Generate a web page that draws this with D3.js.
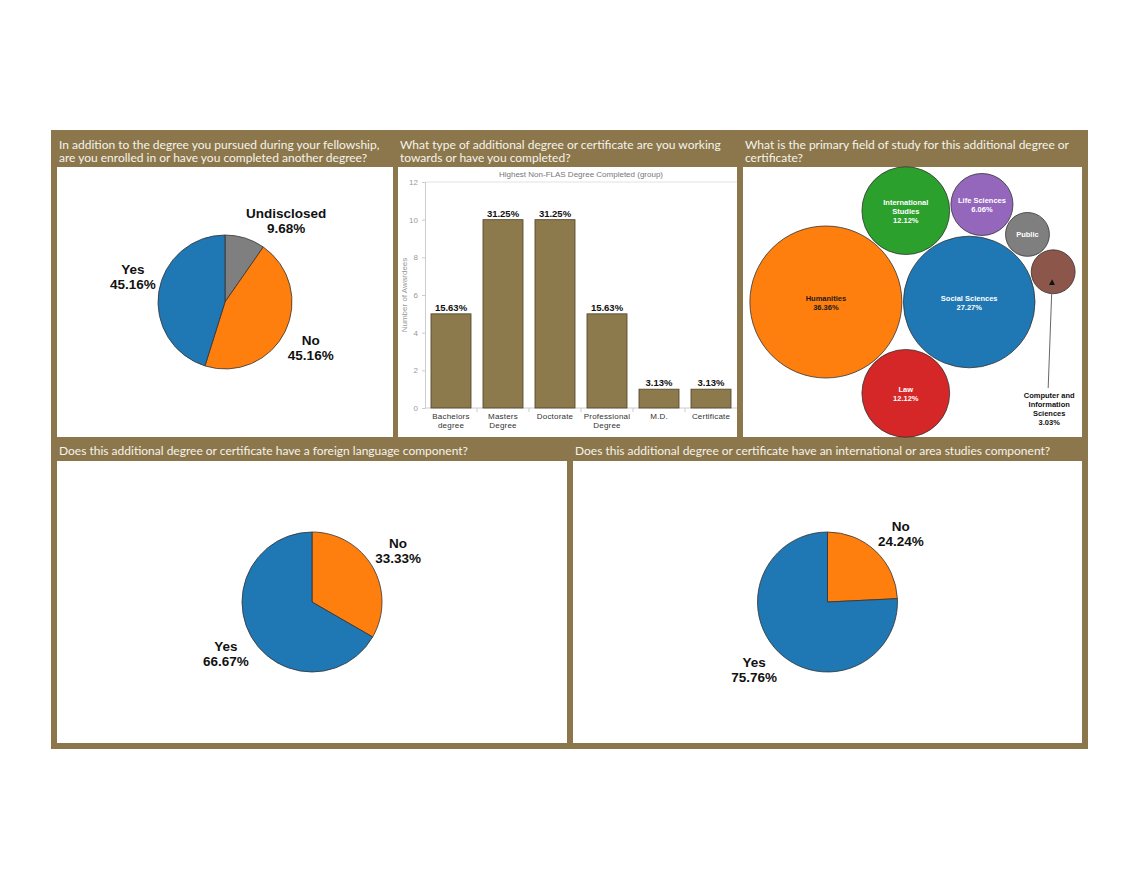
<!DOCTYPE html>
<html>
<head>
<meta charset="utf-8">
<script src="https://d3js.org/d3.v7.min.js"></script>
<style>
    body { margin: 0; background: #fff; }
    svg { display: block; }
</style>
</head>
<body>
<script>
// ---- data ----
var enrolledLabels = ['Undisclosed', 'No', 'Yes'];
var enrolledValues = [9.68, 45.16, 45.16];

var degreeTypes = ['Bachelors degree', 'Masters Degree', 'Doctorate', 'Professional Degree', 'M.D.', 'Certificate'];
var degreeTickLines = [['Bachelors', 'degree'], ['Masters', 'Degree'], ['Doctorate'], ['Professional', 'Degree'], ['M.D.'], ['Certificate']];
var degreeCounts = [5, 10, 10, 5, 1, 1];
var degreeTicks = [0, 2, 4, 6, 8, 10, 12];

var fieldNames = ['Humanities', 'Social Sciences', 'International Studies', 'Law', 'Life Sciences', 'Public', 'Computer and Information Sciences'];
var fieldLabelLines = [['Humanities'], ['Social Sciences'], ['International', 'Studies'], ['Law'], ['Life Sciences'], ['Public'], ['Computer and', 'Information', 'Sciences']];
var fieldPercents = [36.36, 27.27, 12.12, 12.12, 6.06, 3.03, 3.03];

var languageLabels = ['No', 'Yes'];
var languageValues = [33.33, 66.67];

var areaLabels = ['No', 'Yes'];
var areaValues = [24.24, 75.76];

var titles = {
    enrolled: ['In addition to the degree you pursued during your fellowship,', 'are you enrolled in or have you completed another degree?'],
    degreeType: ['What type of additional degree or certificate are you working', 'towards or have you completed?'],
    field: ['What is the primary field of study for this additional degree or', 'certificate?'],
    language: ['Does this additional degree or certificate have a foreign language component?'],
    area: ['Does this additional degree or certificate have an international or area studies component?']
};

// ---- layout / style ----
var FRAME_COLOR = '#8b774b',
    BAR_COLOR = '#8c7a4c',
    TITLE_COLOR = '#f6f3ec',
    PIE_FONT = '"Liberation Sans", Arial, sans-serif';

var COLORS = {
    'Yes': '#1f77b4', 'No': '#ff7f0e', 'Undisclosed': '#7f7f7f',
    'Humanities': '#ff7f0e', 'Social Sciences': '#1f77b4', 'International Studies': '#2ca02c',
    'Law': '#d62728', 'Life Sciences': '#9467bd', 'Public': '#7f7f7f',
    'Computer and Information Sciences': '#8c564b'
};

var ROWS = {
    top: { y0: 167, y1: 437, titleY: [149, 162] },
    bottom: { y0: 461, y1: 743, titleY: [455] }
};

var PANELS = {
    enrolled: { x0: 57, x1: 393, row: ROWS.top },
    degreeType: { x0: 398, x1: 737, row: ROWS.top },
    field: { x0: 743, x1: 1082, row: ROWS.top },
    language: { x0: 57, x1: 567, row: ROWS.bottom },
    area: { x0: 573, x1: 1082, row: ROWS.bottom }
};

var svg = d3.select('body').append('svg')
    .attr('width', 1140)
    .attr('height', 881);

// brown frame
svg.append('rect')
    .attr('x', 51)
    .attr('y', 130)
    .attr('width', 1088 - 51)
    .attr('height', 749 - 130)
    .style('fill', FRAME_COLOR);

Object.keys(PANELS).forEach(function (key) {
    var p = PANELS[key];
    svg.append('rect')
        .attr('x', p.x0)
        .attr('y', p.row.y0)
        .attr('width', p.x1 - p.x0)
        .attr('height', p.row.y1 - p.row.y0)
        .style('fill', '#fff');

    svg.append('g')
        .attr('class', 'panel-title')
        .selectAll('text')
        .data(titles[key])
        .enter().append('text')
        .attr('x', p.x0 + 2)
        .attr('y', function (d, i) { return p.row.titleY[i]; })
        .style('font-family', 'Lato, "Open Sans", sans-serif')
        .style('font-size', '12px')
        .style('fill', TITLE_COLOR)
        .text(function (d) { return d; });
});

function pct(v) {
    return v.toFixed(2) + '%';
}

// ---- pies ----
function drawPie(panel, labels, values, radius) {
    var cx = (panel.x0 + panel.x1) / 2,
        cy = (panel.row.y0 + panel.row.y1) / 2;

    var g = svg.append('g')
        .attr('class', 'pie')
        .attr('transform', 'translate(' + cx + ',' + cy + ')');

    var data = labels.map(function (l, i) {
        return { label: l, value: values[i] };
    });

    var arcs = d3.pie().sort(null).value(function (d) { return d.value; })(data);
    var arc = d3.arc().innerRadius(0).outerRadius(radius);

    g.selectAll('path')
        .data(arcs)
        .enter().append('path')
        .attr('d', arc)
        .style('fill', function (d) { return COLORS[d.data.label]; })
        .style('stroke', '#333')
        .style('stroke-width', 0.8);

    var text = g.selectAll('.pie-label')
        .data(arcs)
        .enter().append('text')
        .attr('class', 'pie-label')
        .attr('text-anchor', 'middle')
        .style('font-family', PIE_FONT)
        .style('font-size', '13.5px')
        .style('font-weight', 'bold')
        .style('fill', '#111');

    text.append('tspan').attr('x', 0).attr('y', -2.7).text(function (d) { return d.data.label; });
    text.append('tspan').attr('x', 0).attr('y', 12.3).text(function (d) { return pct(d.data.value); });

    // put the label box just outside the slice, corner touching the mid-angle point
    text.each(function (d) {
        var w = this.getBBox().width,
            mid = (d.startAngle + d.endAngle) / 2,
            R = radius + 3,
            s = Math.sin(mid),
            c = Math.cos(mid),
            lx = R * s + (s >= 0 ? 1 : -1) * w / 2,
            ly = -R * c + (c >= 0 ? -1 : 1) * 15;
        d3.select(this).attr('transform', 'translate(' + lx + ',' + ly + ')');
    });
}

drawPie(PANELS.enrolled, enrolledLabels, enrolledValues, 67);
drawPie(PANELS.language, languageLabels, languageValues, 70);
drawPie(PANELS.area, areaLabels, areaValues, 70);

// ---- bar chart ----
(function () {
    var plot = { left: 425, right: 737, top: 182, bottom: 408 };
    var g = svg.append('g').attr('class', 'bar-chart');

    var x = d3.scaleBand()
        .domain(degreeTypes)
        .range([plot.left, plot.right])
        .paddingInner(0.23)
        .paddingOuter(0.115);

    var y = d3.scaleLinear()
        .domain([0, 12])
        .range([plot.bottom, plot.top]);

    g.append('text')
        .attr('x', (plot.left + plot.right) / 2)
        .attr('y', 177)
        .attr('text-anchor', 'middle')
        .style('font-family', PIE_FONT)
        .style('font-size', '8px')
        .style('fill', '#777')
        .text('Highest Non-FLAS Degree Completed (group)');

    g.append('line')
        .attr('x1', plot.left).attr('x2', plot.right)
        .attr('y1', plot.top).attr('y2', plot.top)
        .style('stroke', '#e2e2e2');

    var yAxis = g.append('g')
        .attr('transform', 'translate(' + plot.left + ',0)')
        .call(d3.axisLeft(y).tickValues(degreeTicks).tickSize(3).tickPadding(4));
    yAxis.select('.domain').style('stroke', '#ccc');
    yAxis.selectAll('.tick line').style('stroke', '#ccc');
    yAxis.selectAll('.tick text')
        .style('font-family', PIE_FONT)
        .style('font-size', '8px')
        .style('fill', '#999');

    g.append('text')
        .attr('transform', 'translate(407,' + ((plot.top + plot.bottom) / 2) + ') rotate(-90)')
        .attr('text-anchor', 'middle')
        .style('font-family', PIE_FONT)
        .style('font-size', '8px')
        .style('fill', '#999')
        .text('Number of Awardees');

    g.append('line')
        .attr('x1', plot.left).attr('x2', plot.right)
        .attr('y1', plot.bottom).attr('y2', plot.bottom)
        .style('stroke', '#ccc');

    // separators between category cells
    g.selectAll('.sep')
        .data(degreeTypes.slice(1))
        .enter().append('line')
        .attr('class', 'sep')
        .attr('x1', function (d) { return x(d) - x.step() * x.paddingInner() / 2; })
        .attr('x2', function (d) { return x(d) - x.step() * x.paddingInner() / 2; })
        .attr('y1', plot.bottom)
        .attr('y2', plot.bottom + 4)
        .style('stroke', '#ccc');

    var total = d3.sum(degreeCounts);

    g.selectAll('.bar')
        .data(degreeTypes)
        .enter().append('rect')
        .attr('class', 'bar')
        .attr('x', function (d) { return x(d); })
        .attr('y', function (d, i) { return y(degreeCounts[i]); })
        .attr('width', x.bandwidth())
        .attr('height', function (d, i) { return y(0) - y(degreeCounts[i]); })
        .style('fill', BAR_COLOR)
        .style('stroke', '#4f4329')
        .style('stroke-width', 0.8);

    g.selectAll('.bar-value')
        .data(degreeTypes)
        .enter().append('text')
        .attr('class', 'bar-value')
        .attr('x', function (d) { return x(d) + x.bandwidth() / 2; })
        .attr('y', function (d, i) { return y(degreeCounts[i]) - 3; })
        .attr('text-anchor', 'middle')
        .style('font-family', PIE_FONT)
        .style('font-size', '9.5px')
        .style('font-weight', 'bold')
        .style('fill', '#111')
        .text(function (d, i) { return pct(degreeCounts[i] / total * 100); });

    var tick = g.selectAll('.x-label')
        .data(degreeTypes)
        .enter().append('text')
        .attr('class', 'x-label')
        .attr('text-anchor', 'middle')
        .style('font-family', PIE_FONT)
        .style('font-size', '8px')
        .style('letter-spacing', '0.2px')
        .style('fill', '#333');

    tick.selectAll('tspan')
        .data(function (d, i) {
            return degreeTickLines[i].map(function (line) {
                return { line: line, cx: x(d) + x.bandwidth() / 2 };
            });
        })
        .enter().append('tspan')
        .attr('x', function (d) { return d.cx; })
        .attr('y', function (d, j) { return plot.bottom + 11 + j * 9; })
        .text(function (d) { return d.line; });
})();

// ---- packed bubbles ----
(function () {
    var panel = PANELS.field;
    var pad = 1.5;
    var calloutField = 'Computer and Information Sciences';

    var r = d3.scaleSqrt()
        .domain([0, d3.max(fieldPercents)])
        .range([0, 76]);

    var nodes = fieldNames.map(function (name, i) {
        return { name: name, value: fieldPercents[i], lines: fieldLabelLines[i], r: r(fieldPercents[i]) };
    });

    function overlaps(p, rad, placed) {
        return placed.some(function (o) {
            var dx = o.x - p.x, dy = o.y - p.y;
            return Math.sqrt(dx * dx + dy * dy) < o.r + rad + pad - 0.5;
        });
    }

    // two spots where a circle of radius rad touches both a and b
    function tangentSpots(a, b, rad) {
        var dx = b.x - a.x, dy = b.y - a.y,
            d = Math.sqrt(dx * dx + dy * dy),
            ra = a.r + rad + pad, rb = b.r + rad + pad,
            t = (ra * ra - rb * rb + d * d) / (2 * d),
            h = Math.sqrt(Math.max(0, ra * ra - t * t)),
            mx = a.x + t * dx / d, my = a.y + t * dy / d;
        return [
            { x: mx + h * dy / d, y: my - h * dx / d },
            { x: mx - h * dy / d, y: my + h * dx / d }
        ];
    }

    // two largest side by side, next two above / below them,
    // the rest wrap clockwise round the second bubble
    nodes.forEach(function (d, i) {
        if (i === 0) { d.x = 0; d.y = 0; return; }
        if (i === 1) { d.x = nodes[0].r + d.r + pad; d.y = 0; return; }
        var a = i < 4 ? nodes[0] : (i === 4 ? nodes[2] : nodes[i - 1]);
        var placed = nodes.slice(0, i);
        var spots = tangentSpots(a, nodes[1], d.r).sort(function (p, q) { return p.y - q.y; });
        var spot = spots.filter(function (p) { return !overlaps(p, d.r, placed); })[0] || spots[0];
        d.x = spot.x;
        d.y = spot.y;
    });

    var minX = d3.min(nodes, function (d) { return d.x - d.r; }),
        maxX = d3.max(nodes, function (d) { return d.x + d.r; }),
        minY = d3.min(nodes, function (d) { return d.y - d.r; }),
        maxY = d3.max(nodes, function (d) { return d.y + d.r; });

    var ox = (panel.x0 + panel.x1) / 2 - (minX + maxX) / 2,
        oy = (panel.row.y0 + panel.row.y1) / 2 - (minY + maxY) / 2;

    var g = svg.append('g')
        .attr('class', 'bubbles')
        .attr('transform', 'translate(' + ox + ',' + oy + ')');

    g.selectAll('circle')
        .data(nodes)
        .enter().append('circle')
        .attr('cx', function (d) { return d.x; })
        .attr('cy', function (d) { return d.y; })
        .attr('r', function (d) { return d.r; })
        .style('fill', function (d) { return COLORS[d.name]; })
        .style('stroke', '#333')
        .style('stroke-width', 0.8);

    function textColor(c) {
        var rgb = d3.rgb(c);
        return (0.299 * rgb.r + 0.587 * rgb.g + 0.114 * rgb.b) / 255 > 0.55 ? '#1a1a1a' : '#fff';
    }

    var inner = nodes.filter(function (d) { return d.name !== calloutField; });

    var label = g.selectAll('.bubble-label')
        .data(inner)
        .enter().append('text')
        .attr('class', 'bubble-label')
        .attr('text-anchor', 'middle')
        .style('font-family', PIE_FONT)
        .style('font-size', '7.5px')
        .style('font-weight', 'bold')
        .style('fill', function (d) { return textColor(COLORS[d.name]); });

    label.selectAll('tspan')
        .data(function (d) {
            var lines = d.r > 25 ? d.lines.concat([pct(d.value)]) : d.lines;
            return lines.map(function (l, j) {
                return { text: l, x: d.x, y: d.y + 3 + (j - (lines.length - 1) / 2) * 9 };
            });
        })
        .enter().append('tspan')
        .attr('x', function (d) { return d.x; })
        .attr('y', function (d) { return d.y; })
        .text(function (d) { return d.text; });

    // callout for the smallest bubble
    var c = nodes.filter(function (d) { return d.name === calloutField; })[0];
    var callLines = c.lines.concat([pct(c.value)]);
    var lastY = panel.row.y1 - 12 - oy;
    var firstY = lastY - (callLines.length - 1) * 9;

    svg.append('defs').append('marker')
        .attr('id', 'arrow-head')
        .attr('viewBox', '0 0 10 10')
        .attr('refX', 9)
        .attr('refY', 5)
        .attr('markerWidth', 6)
        .attr('markerHeight', 6)
        .attr('orient', 'auto')
        .append('path')
        .attr('d', 'M0,0L10,5L0,10Z')
        .style('fill', '#111');

    g.append('line')
        .attr('x1', c.x - 5)
        .attr('y1', firstY - 10)
        .attr('x2', c.x - 1)
        .attr('y2', c.y + 8)
        .style('stroke', '#666')
        .style('stroke-width', 1)
        .attr('marker-end', 'url(#arrow-head)');

    g.append('text')
        .attr('text-anchor', 'middle')
        .style('font-family', PIE_FONT)
        .style('font-size', '7.5px')
        .style('font-weight', 'bold')
        .style('fill', '#111')
        .selectAll('tspan')
        .data(callLines)
        .enter().append('tspan')
        .attr('x', c.x - 4)
        .attr('y', function (d, j) { return firstY + j * 9; })
        .text(function (d) { return d; });
})();
</script>
</body>
</html>
